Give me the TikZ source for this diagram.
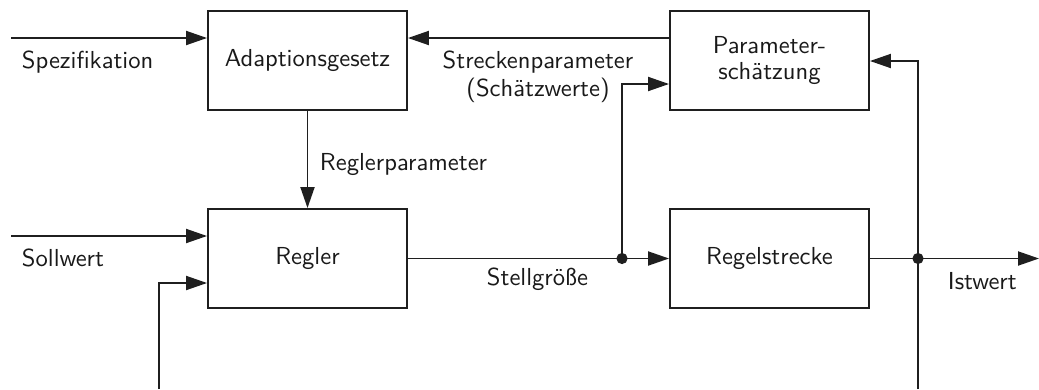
\documentclass[tikz,border=0pt]{standalone}
\usepackage{fontspec}
\newfontfamily\lmsten{lmsans10-regular.otf}
\usetikzlibrary{arrows.meta}
\begin{document}
\begin{tikzpicture}[x=1pt,y=-1pt,
  font=\lmsten\fontsize{24.6}{25.5}\selectfont,
  line width=1.9pt, draw=black!88, text=black!90,
  >={Triangle[length=21pt,width=14pt]},
  blockbox/.style={draw, minimum width=199pt, minimum height=99pt, inner sep=0pt, align=center},
  lbl/.style={inner sep=0pt, anchor=base west},
  junction/.style={fill=black!88}]
\useasboundingbox (0,0) rectangle (1039,389);
% blocks
\node[blockbox] (adapt) at (307.5,60.5) {Adaptionsgesetz};
\node[blockbox] (regler) at (307.5,258.5) {Regler};
\node[blockbox] (schaetz) at (769.5,60.5) {Parameter-\\schätzung};
\node[blockbox] (strecke) at (769.5,258.5) {Regelstrecke};
% coordinates
\coordinate (spezin) at (11,38);
\coordinate (sollin) at (11,236);
\coordinate (rueckin) at (159,389);
\coordinate (rueckknick) at (159,283);
\coordinate (j1) at (622,258.5);
\coordinate (j1top) at (622,84);
\coordinate (j2) at (918,258.5);
\coordinate (j2top) at (918,61);
\coordinate (mess) at (918,389);
\coordinate (istout) at (1039,258.5);
% connectors
\draw[->] (spezin) -- (spezin -| adapt.west);
\draw[->] (schaetz.west |- spezin) -- (adapt.east |- spezin);
\draw[->] (adapt.south) -- (regler.north);
\draw[->] (sollin) -- (sollin -| regler.west);
\draw[->] (rueckin) -- (rueckknick) -- (rueckknick -| regler.west);
\draw (regler.east) -- (j1);
\draw[->] (j1) -- (strecke.west);
\draw[->] (j1) -- (j1top) -- (j1top -| schaetz.west);
\draw (strecke.east) -- (j2);
\draw[->] (j2) -- (istout);
\draw[->] (mess) -- (j2top) -- (j2top -| schaetz.east);
\fill[junction] (j1) circle (5.6pt);
\fill[junction] (j2) circle (5.6pt);
% labels
\node[lbl] (tspez) at (21,68) {Spezifikation};
\node[lbl] (tsoll) at (21,266) {Sollwert};
\node[lbl] (treglp) at (319,170) {Reglerparameter};
\node[lbl] (tstell) at (486,285) {Stellgröße};
\node[lbl] (tist) at (947,289) {Istwert};
\node[inner sep=0pt, align=center, font=\lmsten\fontsize{24.6}{27.5}\selectfont] (tstreck) at (538,77) {Streckenparameter\\(Schätzwerte)};
\end{tikzpicture}
\end{document}
